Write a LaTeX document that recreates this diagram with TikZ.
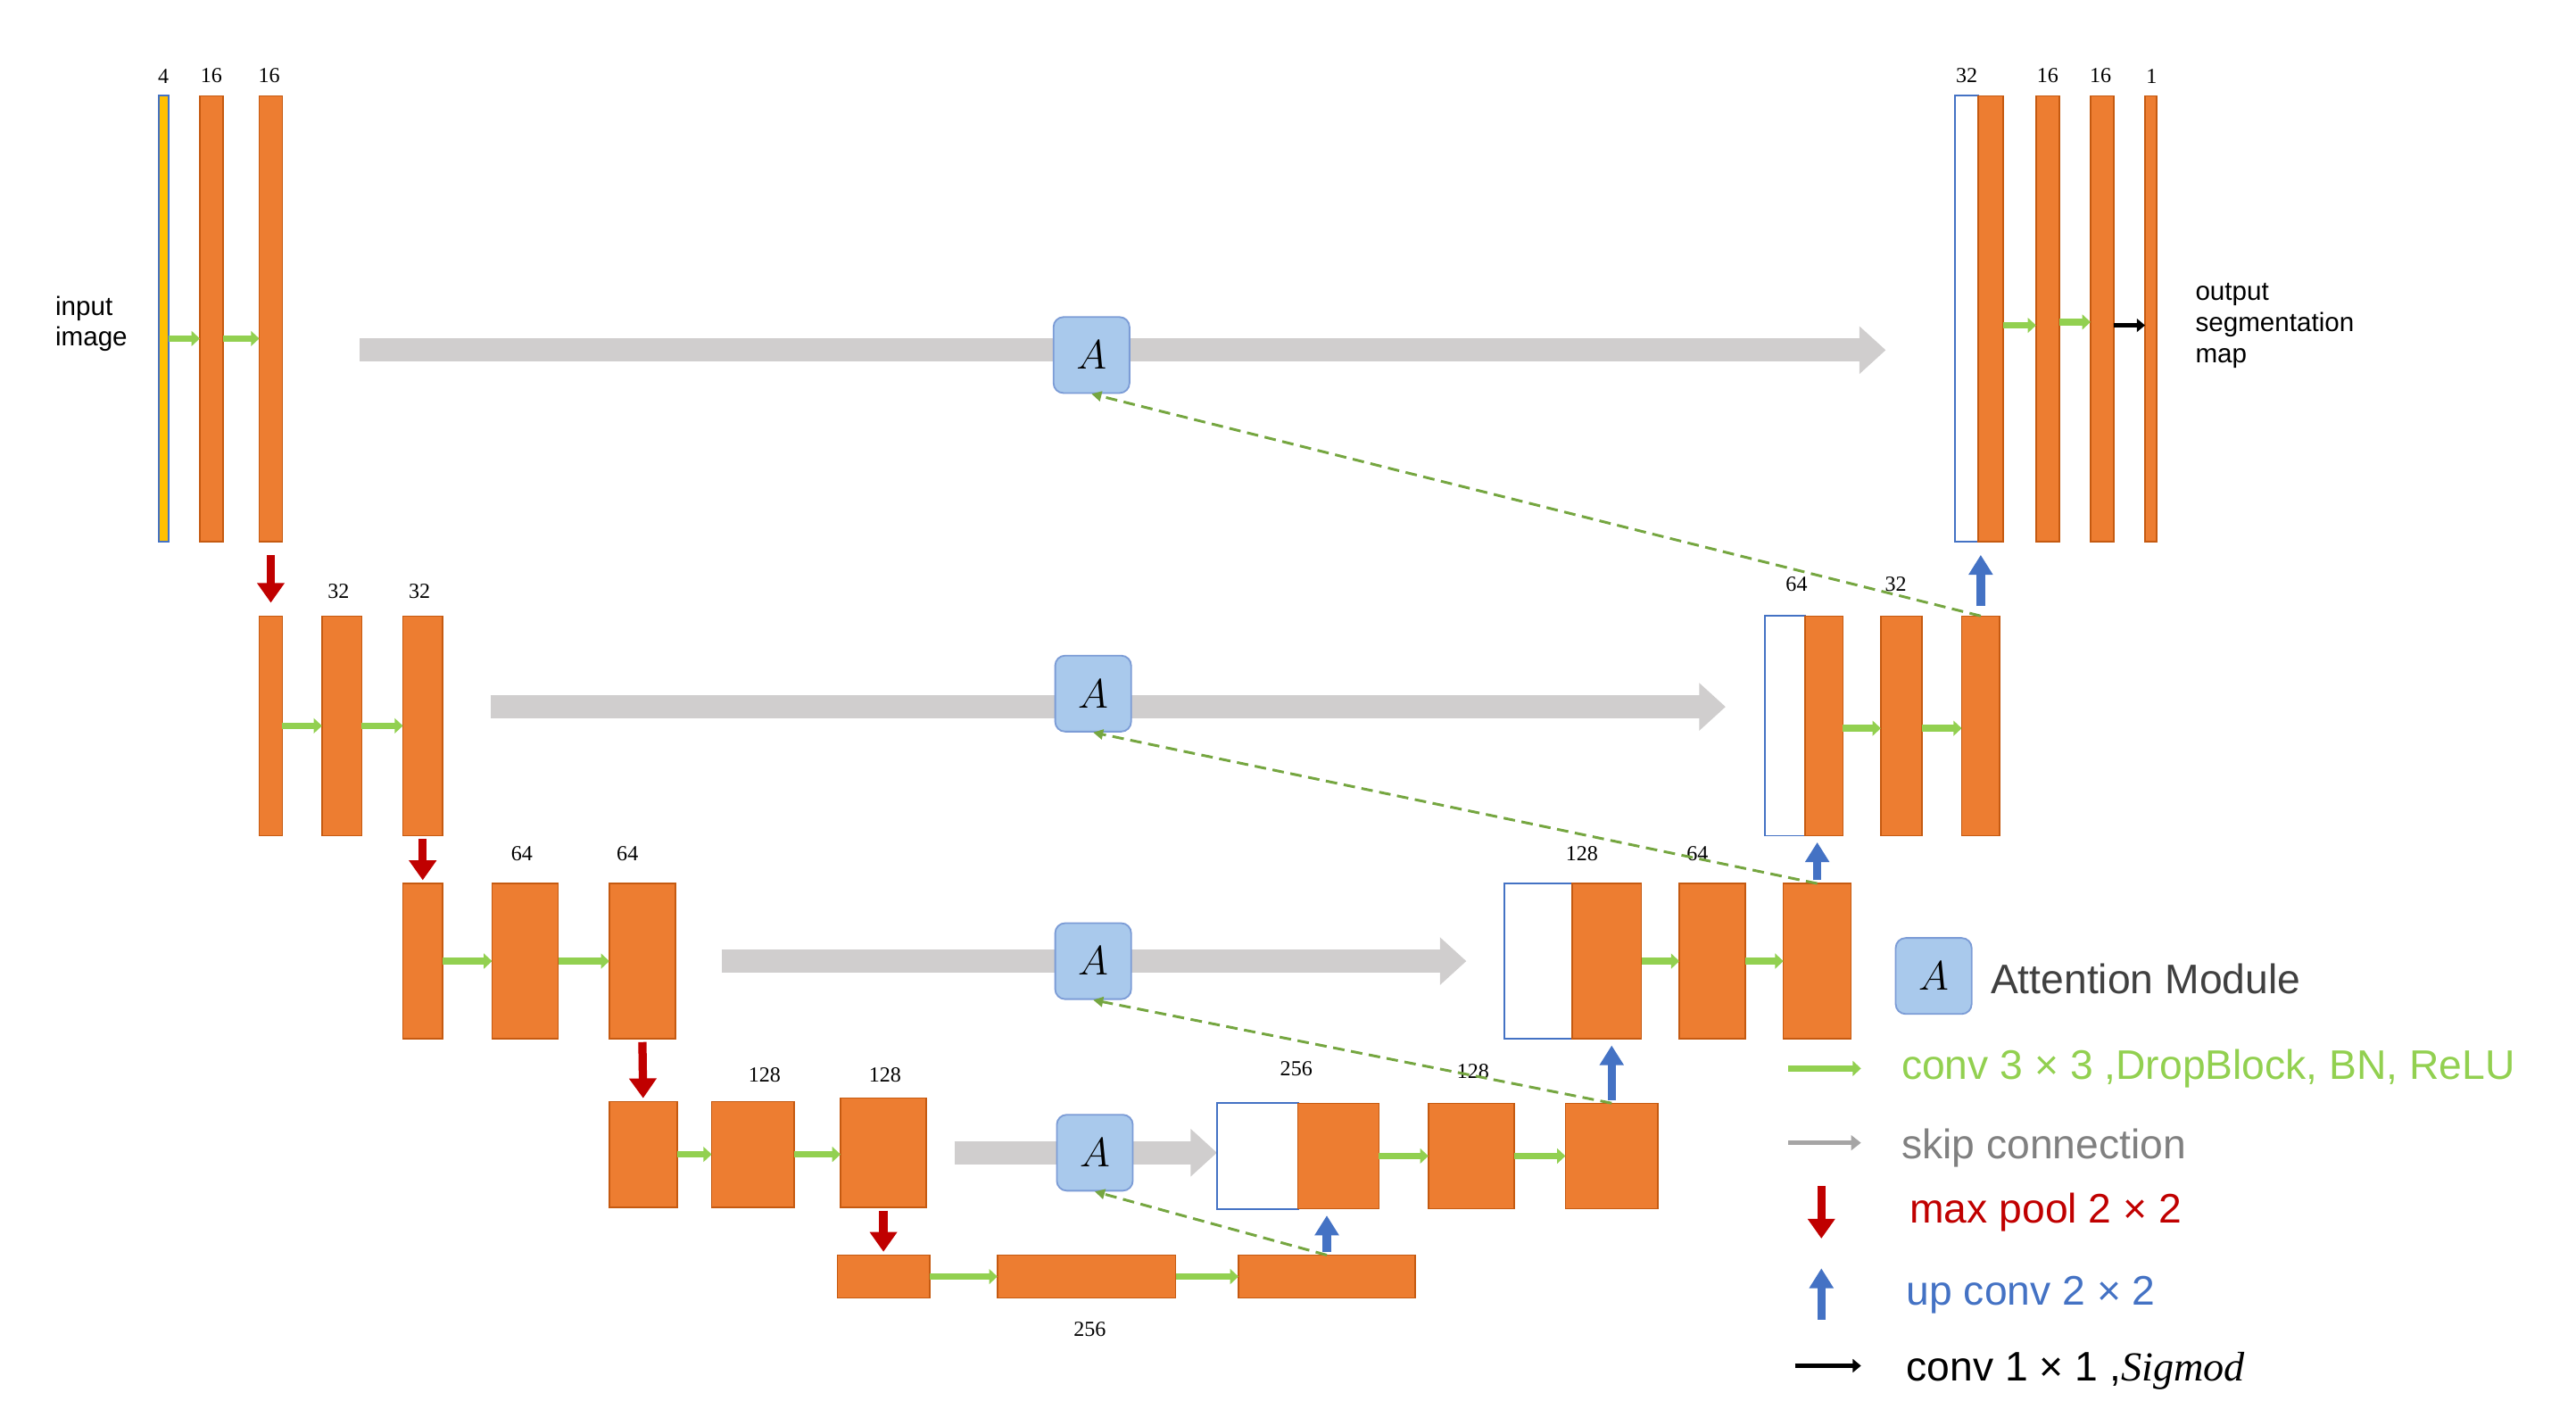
\documentclass[tikz,border=0pt]{standalone}
\usepackage{fontspec}
\setmainfont{Liberation Serif}
\newfontfamily\lsans{Liberation Sans}
\usetikzlibrary{arrows.meta}
\definecolor{org}{HTML}{ED7D31}
\definecolor{orgd}{HTML}{C55A11}
\definecolor{grn}{HTML}{92D050}
\definecolor{gry}{HTML}{D0CECE}
\definecolor{red1}{HTML}{C00000}
\definecolor{blu}{HTML}{4472C4}
\definecolor{lblu}{HTML}{A9C9EC}
\definecolor{ylw}{HTML}{FFC000}
\tikzset{
 ob/.style={fill=org,draw=orgd,line width=0.8pt},
 wb/.style={fill=white,draw=blu,line width=1pt},
 yb/.style={fill=ylw,draw=blu,line width=1pt},
 garr/.style={draw=grn,line width=4pt,-{Triangle[length=5pt,width=9pt]}},
 karr/.style={draw=black,line width=3pt,-{Triangle[length=5pt,width=8pt]}},
 skip/.style={draw=gry,line width=14pt,-{Triangle[length=16pt,width=28pt]}},
 darr/.style={draw=red1,line width=5pt,-{Triangle[length=12pt,width=16pt]},shorten <=2pt,shorten >=2pt},
 darrl/.style={darr,shorten <=8pt,shorten >=8pt},
 uarr/.style={draw=blu,line width=5pt,-{Triangle[length=12pt,width=14pt]},shorten <=2pt,shorten >=4pt},
 uarrl/.style={uarr,shorten <=6pt,shorten >=8pt},
 gdash/.style={draw=grn!80!black,line width=1.6pt,dash pattern=on 7pt off 4pt,-{Triangle[length=6pt,width=6pt]}},
 amod/.style={fill=lblu,draw=blu!70,line width=1pt,rounded corners=6pt,minimum size=46pt,inner sep=0pt,font=\fontsize{26}{26}\selectfont},
 num/.style={font=\fontsize{13}{13}\selectfont},
 leg/.style={font=\lsans\fontsize{25}{25}\selectfont,anchor=west},
}
\newcommand{\blk}[6]{\node[#6,inner sep=0pt,outer sep=0pt,minimum width={(#4-#2)*1pt},minimum height={(#5-#3)*1pt}] (#1) at ({(#2+#4)/2},{(#3+#5)/2}) {};}
\begin{document}
\begin{tikzpicture}[x=1pt,y=-1pt]
\useasboundingbox (0,0) rectangle (1560,848);
% skips
\coordinate (s1a) at (218,212); \coordinate (s1b) at (1142,212);
\coordinate (s2a) at (297,428); \coordinate (s2b) at (1045,428);
\coordinate (s3a) at (437,582); \coordinate (s3b) at (888,582);
\coordinate (s4a) at (578,698); \coordinate (s4b) at (737,698);
\draw[skip] (s1a) -- (s1b);
\draw[skip] (s2a) -- (s2b);
\draw[skip] (s3a) -- (s3b);
\draw[skip] (s4a) -- (s4b);
% encoder row1
\blk{e1a}{96}{58}{102}{328}{yb}
\blk{e1b}{121}{58}{135}{328}{ob}
\blk{e1c}{157}{58}{171}{328}{ob}
\node[num] at (99,46) {4}; \node[num] at (128,46) {16}; \node[num] at (163,46) {16};
\node[font=\lsans\fontsize{16}{18}\selectfont,align=left,anchor=west] (inp) at (30,196) {input\\image};
% row2
\blk{e2a}{157}{373}{171}{506}{ob}
\blk{e2b}{195}{373}{219}{506}{ob}
\blk{e2c}{244}{373}{268}{506}{ob}
\node[num] at (205,358) {32}; \node[num] at (254,358) {32};
% row3
\blk{e3a}{244}{535}{268}{629}{ob}
\blk{e3b}{298}{535}{338}{629}{ob}
\blk{e3c}{369}{535}{409}{629}{ob}
\node[num] at (316,517) {64}; \node[num] at (380,517) {64};
% row4
\blk{e4a}{369}{667}{410}{731}{ob}
\blk{e4b}{431}{667}{481}{731}{ob}
\blk{e4c}{509}{665}{561}{731}{ob}
\node[num] at (463,651) {128}; \node[num] at (536,651) {128};
% bottom
\blk{b1}{507}{760}{563}{786}{ob}
\blk{b2}{604}{760}{712}{786}{ob}
\blk{b3}{750}{760}{857}{786}{ob}
\node[num] at (660,805) {256};
% decoder row4
\blk{d4w}{737}{668}{786}{732}{wb}
\blk{d4o}{786}{668}{835}{732}{ob}
\blk{d4b}{865}{668}{917}{732}{ob}
\blk{d4c}{948}{668}{1004}{732}{ob}
\node[num] at (785,647) {256}; \node[num] at (892,649) {128};
% decoder row3
\blk{d3w}{911}{535}{952}{629}{wb}
\blk{d3o}{952}{535}{994}{629}{ob}
\blk{d3b}{1017}{535}{1057}{629}{ob}
\blk{d3c}{1080}{535}{1121}{629}{ob}
\node[num] at (958,517) {128}; \node[num] at (1028,517) {64};
% decoder row2
\blk{d2w}{1069}{373}{1093}{506}{wb}
\blk{d2o}{1093}{373}{1116}{506}{ob}
\blk{d2b}{1139}{373}{1164}{506}{ob}
\blk{d2c}{1188}{373}{1211}{506}{ob}
\node[num] at (1088,354) {64}; \node[num] at (1148,354) {32};
% decoder row1
\blk{d1w}{1184}{58}{1198}{328}{wb}
\blk{d1o}{1198}{58}{1213}{328}{ob}
\blk{d1b}{1233}{58}{1247}{328}{ob}
\blk{d1c}{1266}{58}{1280}{328}{ob}
\blk{d1d}{1299}{58}{1306}{328}{ob}
\node[num] at (1191,46) {32}; \node[num] at (1240,46) {16}; \node[num] at (1272,46) {16}; \node[num] at (1303,46) {1};
\node[font=\lsans\fontsize{16}{19}\selectfont,align=left,anchor=north west] (outp) at (1326,168) {output\\segmentation\\map};
% attention modules
\node[amod] (A1) at (661,215) {$A$};
\node[amod] (A2) at (662,420) {$A$};
\node[amod] (A3) at (662,582) {$A$};
\node[amod] (A4) at (663,698) {$A$};
% green conv arrows
\draw[garr] (e1a.east |- 0,205) -- (e1b.west |- 0,205);
\draw[garr] (e1b.east |- 0,205) -- (e1c.west |- 0,205);
\draw[garr] (e2a.east) -- (e2b.west);
\draw[garr] (e2b.east) -- (e2c.west);
\draw[garr] (e3a.east) -- (e3b.west);
\draw[garr] (e3b.east) -- (e3c.west);
\draw[garr] (e4a.east) -- (e4b.west);
\draw[garr] (e4b.east) -- (e4c.west |- e4b.east);
\draw[garr] (b1.east) -- (b2.west);
\draw[garr] (b2.east) -- (b3.west);
\draw[garr] (d4o.east) -- (d4b.west);
\draw[garr] (d4b.east) -- (d4c.west);
\draw[garr] (d3o.east) -- (d3b.west);
\draw[garr] (d3b.east) -- (d3c.west);
\draw[garr] (d2o.east |- 0,441) -- (d2b.west |- 0,441);
\draw[garr] (d2b.east |- 0,441) -- (d2c.west |- 0,441);
\draw[garr] (d1o.east |- 0,197) -- (d1b.west |- 0,197);
\draw[garr] (d1b.east |- 0,195) -- (d1c.west |- 0,195);
\draw[karr] (d1c.east |- 0,197) -- (d1d.west |- 0,197);
% pooling
\draw[darrl] (e1c.south) -- (e2a.north);
\draw[darr] (e2c.south) -- (e3a.north);
\draw[darr] (e3c.south) -- (e4a.north);
\draw[darr] (e4c.south) -- (b1.north);
% up conv
\draw[uarr] (b3.north) -- (b3.north |- d4o.south);
\draw[uarr] (d4c.north) -- (d4c.north |- d3o.south);
\draw[uarr] (d3c.north) -- (d3c.north |- d2o.south);
\draw[uarrl] (d2c.north) -- (d2c.north |- d1o.south);
% gating dashed
\draw[gdash] (d2c.north) -- (A1.south);
\draw[gdash] (d3c.north) -- (A2.south);
\draw[gdash] (d4c.north) -- (A3.south);
\draw[gdash] (b3.north) -- (A4.south);
% legend
\node[amod] (LA) at (1171,591) {$A$};
\node[leg,text=black!75] (lt1) at (1202,593) {Attention Module};
\coordinate (lg1) at (1083,647); \coordinate (lg2) at (1127,647);
\draw[garr] (lg1) -- (lg2);
\node[leg,text=grn] (lt2) at (1148,647) {conv 3 × 3 ,DropBlock, BN, ReLU};
\coordinate (ls1) at (1083,692); \coordinate (ls2) at (1127,692);
\draw[draw=gry!80!black,line width=3pt,-{Triangle[length=6pt,width=9pt]}] (ls1) -- (ls2);
\node[leg,text=gray] (lt3) at (1148,695) {skip connection};
\coordinate (lr1) at (1103,718); \coordinate (lr2) at (1103,750);
\draw[draw=red1,line width=5pt,-{Triangle[length=12pt,width=16pt]}] (lr1) -- (lr2);
\node[leg,text=red1] (lt4) at (1153,734) {max pool 2 × 2};
\coordinate (lu1) at (1103,799); \coordinate (lu2) at (1103,768);
\draw[draw=blu,line width=5pt,-{Triangle[length=12pt,width=14pt]}] (lu1) -- (lu2);
\node[leg,text=blu] (lt5) at (1151,784) {up conv 2 × 2};
\coordinate (lk1) at (1087,827); \coordinate (lk2) at (1127,827);
\draw[karr] (lk1) -- (lk2);
\node[leg] (lt6) at (1151,830) {conv 1 × 1 ,$\mathit{Sigmod}$};
\end{tikzpicture}
\end{document}
